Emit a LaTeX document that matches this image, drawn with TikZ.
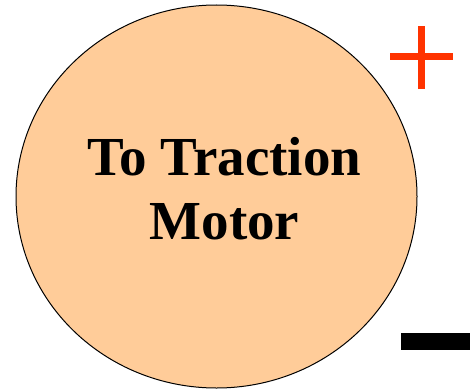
\documentclass[tikz,border=0pt]{standalone}
\usepackage{fontspec}
\setmainfont{Liberation Serif}
\usepackage{tikz}
\usetikzlibrary{shapes.geometric}
\definecolor{motorpeach}{HTML}{FFCC99}
\definecolor{plusred}{HTML}{FF3300}

\begin{document}
\begin{tikzpicture}[
  x=1pt, y=1pt,
  motor/.style={draw, ellipse, line width=1pt, fill=motorpeach, minimum width=401pt, minimum height=383pt, inner sep=0pt},
  lbl/.style={anchor=base, inner sep=0pt, font=\fontsize{55}{64}\selectfont\bfseries},
  pole/.style={line width=7pt}
]
\useasboundingbox (0,0) rectangle (470,389);

\node[motor] (motor) at (216.5,192.5) {};
\node[lbl] (line1) at (224.5,214) {To Traction};
\node[lbl] (line2) at (224.5,150) {Motor};

% terminals
\draw[pole, plusred] (390,332) -- (453,332);
\draw[pole, plusred] (421.7,300) -- (421.7,363);
\fill[black] (400.7,39) rectangle (470,55.7);

\end{tikzpicture}
\end{document}
